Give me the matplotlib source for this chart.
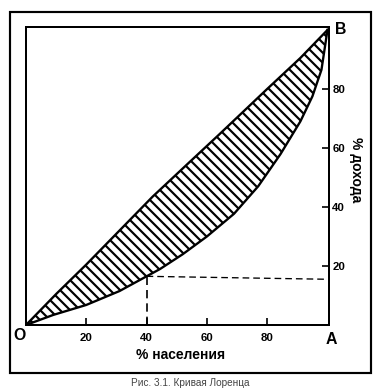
import matplotlib
matplotlib.use("Agg")
import matplotlib.pyplot as plt
from matplotlib.patches import Rectangle
import numpy as np

# Data
pop_share = [0, 9, 20, 31, 40, 44.5, 52, 60, 69, 77, 84.4, 91, 95, 98, 100]
income_share = [0, 3.4, 6.8, 11.5, 16.5, 19, 24, 30, 37.7, 47, 57.9, 69, 77.5, 86.5, 100]
equality_x = [0, 10, 20, 31, 42, 53.5, 64, 80, 91, 100]
equality_y = [0, 10.5, 20.5, 32, 43.5, 54.5, 64.5, 80, 90.5, 100]
marker_pop = 40
marker_income = 16.5
marker_income_right = 15.5
x_ticks = [20, 40, 60, 80]
y_ticks = [20, 40, 60, 80]

W, H, DPI = 383, 389, 120
plt.rcParams['font.family'] = ['Liberation Sans', 'DejaVu Sans']
plt.rcParams['hatch.linewidth'] = 1.3
plt.rcParams['hatch.color'] = 'black'

fig = plt.figure(figsize=(W / DPI, H / DPI), dpi=DPI)
fig.patch.set_facecolor('white')

# Outer frame
fig.patches.append(Rectangle((10 / W, 1 - 373 / H), (371 - 10) / W, (373 - 12) / H,
                             transform=fig.transFigure, fill=False, lw=1.3,
                             edgecolor='black', zorder=0))

ax = fig.add_axes([26 / W, 1 - 325 / H, (329 - 26) / W, (325 - 27) / H])
ax.set_xlim(0, 100.5)
ax.set_ylim(0, 101)

# Hatched region between equality line and Lorenz curve
poly_x = np.r_[equality_x, pop_share[::-1]]
poly_y = np.r_[equality_y, income_share[::-1]]
ax.fill(poly_x, poly_y, facecolor='none', edgecolor='black', hatch='\\\\\\\\', lw=0)
ax.plot(equality_x, equality_y, color='black', lw=1.4, solid_joinstyle='round')
ax.plot(pop_share, income_share, color='black', lw=1.4, solid_joinstyle='round')

# Dashed guides
ax.plot([marker_pop, marker_pop], [0, marker_income], color='black', lw=1.0,
        dashes=(5, 3))
ax.plot([marker_pop, 100], [marker_income, marker_income_right], color='black',
        lw=0.8, dashes=(5, 3))

for s in ax.spines.values():
    s.set_linewidth(1.2)

ax.set_xticks(x_ticks)
ax.set_yticks(y_ticks)
ax.tick_params(axis='x', direction='in', length=4, width=1, pad=5,
               labelsize=6.8)
ax.tick_params(axis='y', direction='in', length=4, width=1, pad=2,
               labelsize=6.8, left=False, labelleft=False, right=True,
               labelright=True)
for lab in ax.get_xticklabels() + ax.get_yticklabels():
    lab.set_fontweight('bold')

fig.text(20 / W, 1 - 336 / H, 'O', fontsize=9.5, fontweight='bold',
         ha='center', va='center')
fig.text(331 / W, 1 - 340 / H, 'A', fontsize=9.5, fontweight='bold',
         ha='center', va='center')
fig.text(341 / W, 1 - 30 / H, 'B', fontsize=9.5, fontweight='bold',
         ha='center', va='center')
fig.text(181 / W, 1 - 355 / H, '% населения', fontsize=8.3, fontweight='bold',
         ha='center', va='center')
fig.text(356 / W, 1 - 170 / H, '% дохода', fontsize=8.3, fontweight='bold',
         ha='center', va='center', rotation=-90)
fig.text(190 / W, 1 - 388 / H, 'Рис. 3.1. Кривая Лоренца', fontsize=6,
         color='#444444', ha='center', va='bottom')

fig.savefig('out.png', dpi=DPI)
